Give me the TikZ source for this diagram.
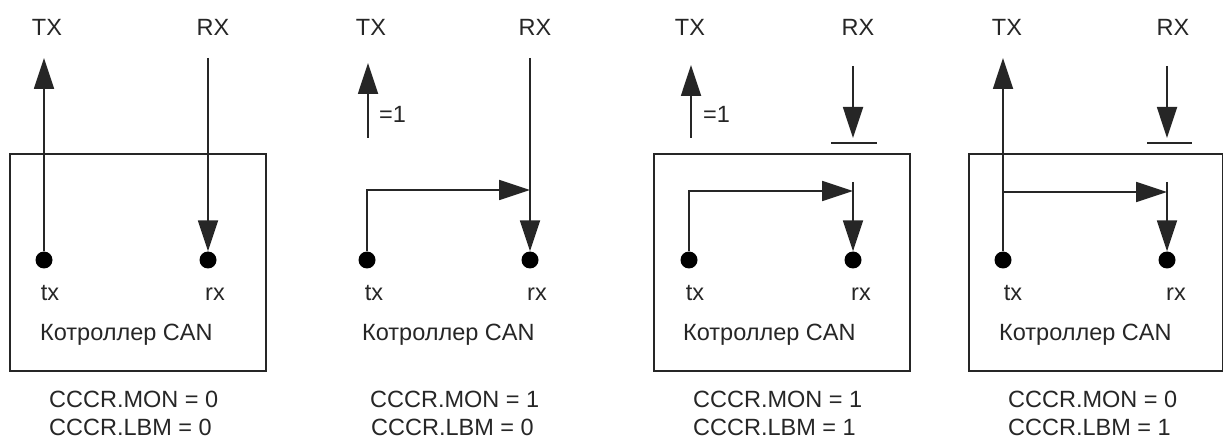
\documentclass[tikz,border=0pt]{standalone}
\usepackage{fontspec}
\setmainfont{Liberation Sans}
\usetikzlibrary{arrows.meta}
\begin{document}
\begin{tikzpicture}[x=1pt,y=-1pt,
  wire/.style={line width=1.8pt, draw=black!85},
  arr/.style={wire, -{Triangle[length=31pt,width=20pt]}},
  pin/.style={circle, fill=black, minimum size=17pt, inner sep=0pt},
  lbl/.style={anchor=base, inner sep=0pt, font=\fontsize{23.5}{28}\selectfont, text=black!85},
  lblw/.style={lbl, anchor=base west},
  ctl/.style={draw=black!85, line width=1.8pt, anchor=north west, inner sep=0pt, minimum height=217pt}]
\useasboundingbox (0,0) rectangle (1223,438);

% ---------- panel 1 ----------
\node[ctl, minimum width=256pt] (box1) at (9,153) {};
\node[pin] (tx1) at (44,260) {};
\node[pin] (rx1) at (208,260) {};
\coordinate (TXe1) at (44,58);
\coordinate (RXs1) at (208,58);
\draw[arr] (tx1) -- (TXe1);
\draw[arr] (RXs1) -- (rx1.north);
\node[lbl] (TX1) at (47,35.5) {TX};
\node[lbl] (RX1) at (213,35.5) {RX};
\node[lbl] (tl1) at (50,300) {tx};
\node[lbl] (rl1) at (215,300) {rx};
\node[lblw] (k1) at (40,340) {Котроллер CAN};
\node[lblw] (m1) at (49,407) {CCCR.MON = 0};
\node[lblw] (b1) at (49,435) {CCCR.LBM = 0};

% ---------- panel 2 ----------
\node[pin] (tx2) at (367,260) {};
\node[pin] (rx2) at (530,260) {};
\coordinate (TXs2) at (368,138);
\coordinate (TXe2) at (368,63);
\coordinate (RXs2) at (530,58);
\coordinate (J2) at (530,190);
\draw[arr] (TXs2) -- (TXe2);
\draw[arr] (RXs2) -- (rx2.north);
\draw[arr] (tx2.north) |- (J2);
\node[lblw] (eq2) at (379,123) {=1};
\node[lbl] (TX2) at (371,35.5) {TX};
\node[lbl] (RX2) at (535,35.5) {RX};
\node[lbl] (tl2) at (374,300) {tx};
\node[lbl] (rl2) at (537,300) {rx};
\node[lblw] (k2) at (362,340) {Котроллер CAN};
\node[lblw] (m2) at (370,407) {CCCR.MON = 1};
\node[lblw] (b2) at (371,435) {CCCR.LBM = 0};

% ---------- panel 3 ----------
\node[ctl, minimum width=256pt] (box3) at (653,153) {};
\node[pin] (tx3) at (689,260) {};
\node[pin] (rx3) at (853,260) {};
\coordinate (TXs3) at (691,138);
\coordinate (TXe3) at (691,65);
\draw[arr] (TXs3) -- (TXe3);
\node[lblw] (eq3) at (703,123) {=1};
\coordinate (RXs3) at (853,66);
\coordinate (RXe3) at (853,138);
\draw[arr] (RXs3) -- (RXe3);
\coordinate (bl3) at (831,143);
\coordinate (br3) at (877,143);
\draw[wire] (bl3) -- (br3);
\coordinate (S3) at (853,182);
\coordinate (J3) at (853,191);
\draw[arr] (S3) -- (rx3.north);
\draw[arr] (tx3.north) |- (J3);
\node[lbl] (TX3) at (690,35.5) {TX};
\node[lbl] (RX3) at (858,35.5) {RX};
\node[lbl] (tl3) at (695,300) {tx};
\node[lbl] (rl3) at (861,300) {rx};
\node[lblw] (k3) at (683,340) {Котроллер CAN};
\node[lblw] (m3) at (693,407) {CCCR.MON = 1};
\node[lblw] (b3) at (693,435) {CCCR.LBM = 1};

% ---------- panel 4 ----------
\node[ctl, minimum width=254pt] (box4) at (968,153) {};
\node[pin] (tx4) at (1003,260) {};
\node[pin] (rx4) at (1167,260) {};
\coordinate (TXe4) at (1003,58);
\draw[arr] (tx4) -- (TXe4);
\coordinate (B4) at (1003,192);
\coordinate (J4) at (1167,192);
\draw[arr] (B4) -- (J4);
\coordinate (RXs4) at (1167,66);
\coordinate (RXe4) at (1167,138);
\draw[arr] (RXs4) -- (RXe4);
\coordinate (bl4) at (1147,143);
\coordinate (br4) at (1192,143);
\draw[wire] (bl4) -- (br4);
\coordinate (S4) at (1167,182);
\draw[arr] (S4) -- (rx4.north);
\node[lbl] (TX4) at (1007,35.5) {TX};
\node[lbl] (RX4) at (1173,35.5) {RX};
\node[lbl] (tl4) at (1013,300) {tx};
\node[lbl] (rl4) at (1176,300) {rx};
\node[lblw] (k4) at (999,340) {Котроллер CAN};
\node[lblw] (m4) at (1008,407) {CCCR.MON = 0};
\node[lblw] (b4) at (1008,435) {CCCR.LBM = 1};
\end{tikzpicture}
\end{document}
